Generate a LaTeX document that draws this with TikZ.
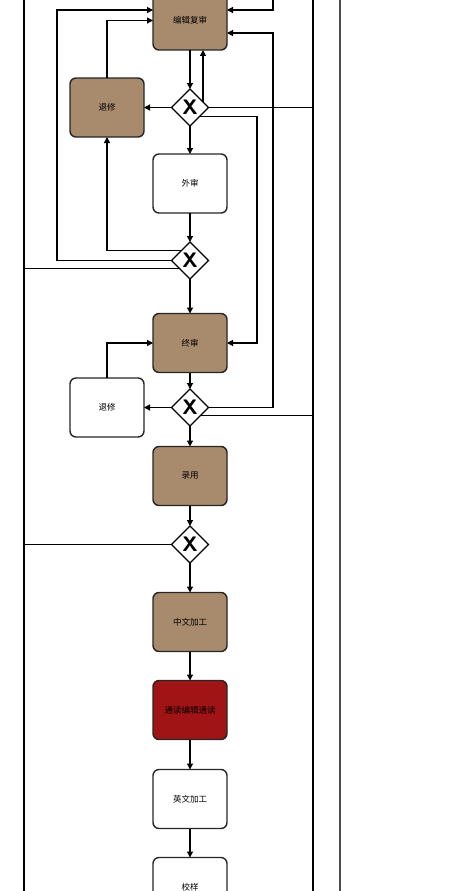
\documentclass[tikz,border=0pt]{standalone}
\usepackage{fontspec}
\newfontfamily\cjk{Noto Sans CJK SC}
\usetikzlibrary{shapes.geometric,positioning,arrows.meta,calc}
\definecolor{taskbrown}{RGB}{168,138,108}
\definecolor{taskred}{RGB}{160,20,22}

\begin{document}
\begin{tikzpicture}[x=1pt, y=-1pt,
    taskNode/.style={rectangle, rounded corners=6pt, draw=black!85, fill=white, line width=1.4pt, minimum width=74pt, minimum height=59pt, inner sep=0pt, outer sep=0pt, font=\cjk\fontsize{8.5}{10}\selectfont},
    brownTask/.style={taskNode, fill=taskbrown},
    redTask/.style={taskNode, fill=taskred},
    gateNode/.style={diamond, draw, fill=white, minimum size=37pt, inner sep=0pt, outer sep=0pt, line width=1.2pt, font=\sffamily\bfseries\fontsize{21}{21}\selectfont},
    arrow/.style={-{Triangle[length=6pt,width=6pt]}, line width=1.2pt},
    flow/.style={line width=1.2pt},
    lane/.style={line width=2pt}]

  \useasboundingbox (0,0) rectangle (471,891);

  % Lanes
  \coordinate (laneL) at (24,0);
  \coordinate (laneR) at (313,0);
  \coordinate (laneRR) at (340,0);
  \draw[lane] (laneL) -- ++(0,891);
  \draw[lane, line width=1.6pt] (laneR) -- ++(0,891);
  \draw[lane, line width=1.6pt, black!70] (laneRR) -- ++(0,891);

  % Main column
  \node[brownTask] (fushen) at (190,20.5) {编辑复审};
  \node[gateNode, below=39pt of fushen] (gw1) {X};
  \node[taskNode, below=28pt of gw1] (waishen) {外审};
  \node[gateNode, below=29pt of waishen] (gw2) {X};
  \node[brownTask, below=34.5pt of gw2] (zhongshen) {终审};
  \node[gateNode, below=16.5pt of zhongshen] (gw3) {X};
  \node[brownTask, below=20.5pt of gw3] (luyong) {录用};
  \node[gateNode, below=20.5pt of luyong] (gw4) {X};
  \node[brownTask, below=29.5pt of gw4] (zhongwen) {中文加工};
  \node[redTask, below=29pt of zhongwen] (tongdu) {通读编辑通读};
  \node[taskNode, below=30pt of tongdu] (yingwen) {英文加工};
  \node[taskNode, below=29pt of yingwen] (jiaoyang) {校样};

  % Returns
  \node[brownTask, left=27.5pt of gw1] (tuixiu1) {退修};
  \node[taskNode, left=27.5pt of gw3] (tuixiu2) {退修};

  % Bends
  \coordinate (topIn) at (273,0);
  \coordinate (leftA) at (57,0);
  \coordinate (rightA) at (257,0);
  \coordinate (rightB) at (273,0);

  % Arrows
  \draw[arrow] (topIn) |- ($(fushen.east)+(0,-10.5)$);
  \draw[arrow] (fushen) -- (gw1);
  \draw[arrow] (gw1.23) -- (gw1.23 |- fushen.south);
  \draw[arrow] (gw1) -- (tuixiu1);
  \draw[arrow] (gw1) -- (waishen);
  \draw[flow] (gw1.east) -- (gw1.east -| laneR);
  \draw[arrow] (gw1.-43) -- (gw1.-43 -| rightA) |- (zhongshen.east);
  \draw[arrow] (tuixiu1.north) |- (fushen.west);

  \draw[arrow] (waishen) -- (gw2);
  \draw[arrow] (gw2.130) -| (tuixiu1.south);
  \draw[arrow] (gw2.west) -- (gw2.west -| leftA) |- ($(fushen.west)+(0,-10.5)$);
  \draw[flow] (gw2.217) -- (gw2.217 -| laneL);
  \draw[arrow] (gw2) -- (zhongshen);

  \draw[arrow] (tuixiu2.north) |- (zhongshen.west);
  \draw[arrow] (zhongshen) -- (gw3);
  \draw[arrow] (gw3) -- (tuixiu2);
  \draw[arrow] (gw3.east) -- (gw3.east -| rightB) |- ($(fushen.east)+(0,12.5)$);
  \draw[flow] (gw3.-37) -- (gw3.-37 -| laneR);
  \draw[arrow] (gw3) -- (luyong);

  \draw[arrow] (luyong) -- (gw4);
  \draw[flow] (gw4.west) -- (gw4.west -| laneL);
  \draw[arrow] (gw4) -- (zhongwen);
  \draw[arrow] (zhongwen) -- (tongdu);
  \draw[arrow] (tongdu) -- (yingwen);
  \draw[arrow] (yingwen) -- (jiaoyang);

\end{tikzpicture}
\end{document}
